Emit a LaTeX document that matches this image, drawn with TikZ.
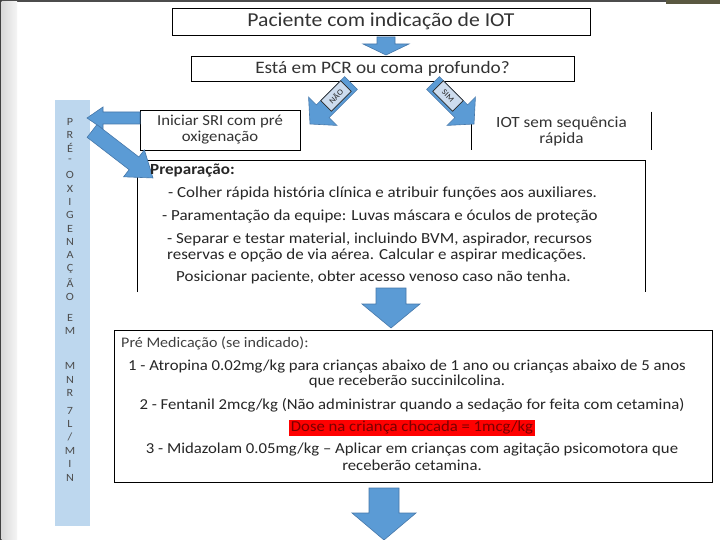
\documentclass[tikz,border=0pt]{standalone}
\usepackage{fontspec}
\setmainfont{Carlito}[FakeStretch=1.1]
\usetikzlibrary{calc}

\definecolor{arrowblue}{RGB}{91,155,213}
\definecolor{arrowedge}{RGB}{70,120,170}
\definecolor{stripblue}{RGB}{189,215,238}
\definecolor{tagfill}{RGB}{205,220,238}
\definecolor{doseback}{RGB}{255,0,0}
\definecolor{dosetext}{RGB}{120,0,0}
\definecolor{slideolive}{RGB}{90,88,65}

% block arrow: tail, angle, length, shaft width, head width, head length
\newcommand{\bluearrow}[6]{%
  \begin{scope}[shift={#1}, rotate=#2]
    \filldraw[arrowbody] (0,-#4/2) -- ({#3-#6},-#4/2) -- ({#3-#6},-#5/2) -- (#3,0)
      -- ({#3-#6},#5/2) -- ({#3-#6},#4/2) -- (0,#4/2) -- cycle;
  \end{scope}}

\begin{document}
\begin{tikzpicture}[x=1pt, y=-1pt,
    box/.style={draw=black, line width=0.9pt, fill=white, text=black!80, align=center, inner sep=0pt},
    arrowbody/.style={fill=arrowblue, draw=arrowedge, line width=0.6pt},
    tag/.style={draw=black!85, fill=tagfill, line width=0.7pt, inner sep=0pt, minimum width=28pt, minimum height=15pt, text=black!85, font=\fontsize{8}{8}\selectfont},
    body/.style={text=black!85, font=\fontsize{15.4}{16}\selectfont, inner sep=0pt},
    med/.style={text=black!85, font=\fontsize{15.2}{15}\selectfont, inner sep=0pt},
    letter/.style={text=black!70, font=\fontsize{11}{12}\selectfont, inner sep=0pt}]
    \useasboundingbox (0,0) rectangle (720,540);
    \fill[white] (0,0) rectangle (720,540);

    % slide frame
    \fill[black!70] (0,0) rectangle (666,2);
    \fill[slideolive] (666,0) rectangle (720,4);
    \fill[black!75] (0,0) rectangle (1.5,540);
    \shade[left color=black!15, right color=black!4] (1.5,2) rectangle (17,540);

    % side strip
    \fill[stripblue] (55,100) rectangle (90,526);
    \foreach \ch/\yy in {P/122, R/135, É/148, -/161, O/175, X/189, I/202, G/215, E/229, N/242, A/255, Ç/269, Ã/283, O/297,
                         E/318, M/331, M/366, N/380, R/393, 7/411, L/424, {/}/437, M/451, I/464, N/478}
        \node[letter] (ltr\yy) at (70,\yy) {\ch};

    % top boxes
    \node[box, minimum width=418pt, minimum height=27pt, font=\fontsize{19.7}{22}\selectfont] (pac) at (381,21.5) {Paciente com indicação de IOT};
    \node[box, minimum width=383pt, minimum height=25pt, font=\fontsize{17.5}{20}\selectfont] (pcr) at (382.5,68.5) {Está em PCR ou coma profundo?};
    \bluearrow{(386,37)}{-90}{18}{18}{46}{11}

    \node[box, minimum width=160pt, minimum height=40pt, font=\fontsize{15.2}{16}\selectfont] (sri) at (220,130) {Iniciar SRI com pré\\oxigenação};
    \node[box, draw=none, minimum width=179pt, minimum height=38pt, font=\fontsize{15.6}{16}\selectfont] (iot) at (561.5,131) {IOT sem sequência\\rápida};
    \draw[line width=0.9pt] (iot.north west) -- (iot.south west);
    \draw[line width=0.9pt] (iot.north east) -- (iot.south east);

    % NAO / SIM
    \bluearrow{(351,83)}{225}{58}{18}{40}{18}
    \node[tag, rotate=45] (nao) at (336,96) {NÃO};
    \bluearrow{(433,83)}{-45}{58}{18}{40}{18}
    \node[tag, rotate=-45] (sim) at (448,96) {SIM};

    % preparation
    \draw[line width=0.9pt] (137,292) -- (137,160) -- (645,160) -- (645,292);
    \bluearrow{(140,118)}{180}{53}{12}{22}{16}
    \bluearrow{(92,131)}{-37.6}{77}{16}{34}{24}
    \node[body, anchor=west, font=\bfseries\fontsize{15.5}{16}\selectfont] (prep) at (150,171) {Preparação:};
    \node[body, anchor=west] (colher) at (168,193) {- Colher rápida história clínica e atribuir funções aos auxiliares.};
    \node[body, anchor=west] (param) at (162,216) {- Paramentação da equipe: Luvas máscara e óculos de proteção};
    \node[body, anchor=west, align=left] (separar) at (167,247) {- Separar e testar material, incluindo BVM, aspirador, recursos\\reservas e opção de via aérea. Calcular e aspirar medicações.};
    \node[body, anchor=west] (posic) at (176,277) {Posicionar paciente, obter acesso venoso caso não tenha.};

    \bluearrow{(391,288)}{-90}{40}{30}{58}{24}

    % pre-medication
    \node[box, minimum width=598pt, minimum height=152pt] (premed) at (413,406) {};
    \node[med, anchor=west, text=black!75, font=\fontsize{14.6}{15}\selectfont] (pmtitle) at (121,343) {Pré Medicação (se indicado):};
    \node[med, align=center] (atro) at (407,374) {1 - Atropina 0.02mg/kg para crianças abaixo de 1 ano ou crianças abaixo de 5 anos\\que receberão succinilcolina.};
    \node[med] (fent) at (412,405) {2 - Fentanil 2mcg/kg (Não administrar quando a sedação for feita com cetamina)};
    \node[med, fill=doseback, text=dosetext, inner sep=1.5pt] (dose) at (412,428) {Dose na criança chocada = 1mcg/kg};
    \node[med, align=center, font=\fontsize{15.2}{17}\selectfont] (mida) at (412,457) {3 - Midazolam 0.05mg/kg -- Aplicar em crianças com agitação psicomotora que\\receberão cetamina.};

    \bluearrow{(384,488)}{-90}{52}{30}{64}{27}
\end{tikzpicture}
\end{document}
